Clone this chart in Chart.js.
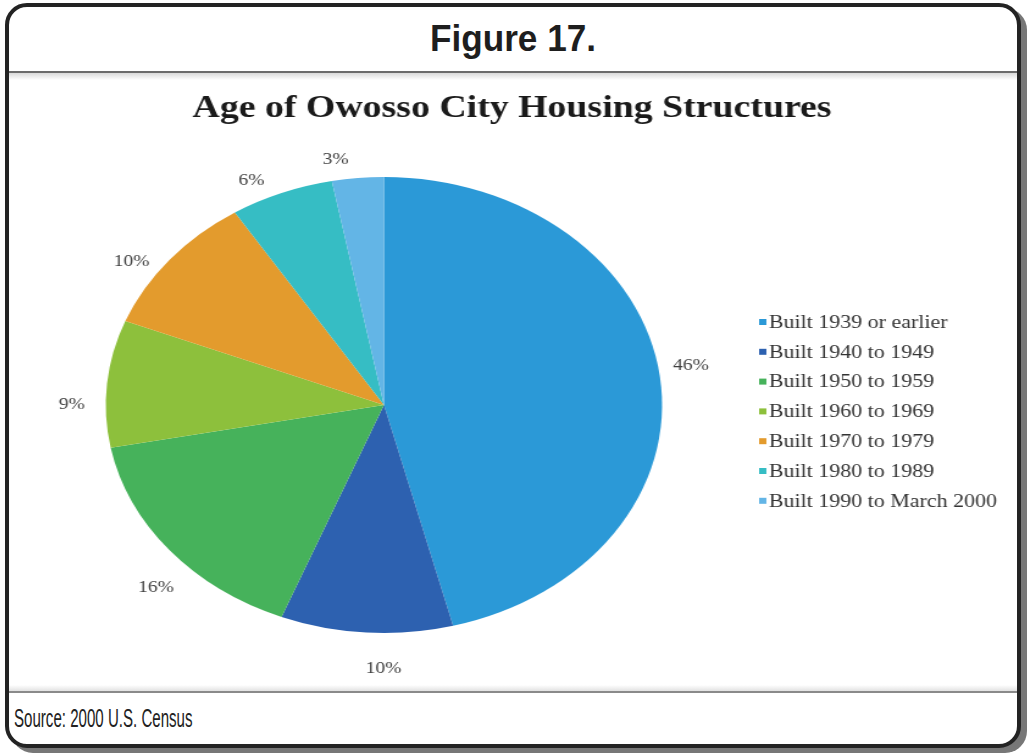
<!DOCTYPE html>
<html>
<head>
<meta charset="utf-8">
<script src="https://cdn.jsdelivr.net/npm/chart.js@4.4.1/dist/chart.umd.min.js"></script>
<style>
  body { margin: 0; background: #fff; width: 1029px; height: 753px; overflow: hidden; position: relative; }
  .frame { position: absolute; left: 5px; top: 3px; width: 1008px; height: 737px; border: 4px solid #232323;
           border-radius: 22px; box-shadow: 6px 5px 0 #777; background: #fff; overflow: hidden; }
  .head { position: absolute; left: 0; top: 0; right: 0; height: 64px; border-bottom: 2px solid #6b6b6b; }
  .head span { position: absolute; left: 50%; top: 12px; transform: translateX(-50%) scaleX(0.95);
               font: bold 37px "Liberation Sans", sans-serif; line-height: 40px; color: #1e1e1e; white-space: nowrap; }
  .band { position: absolute; left: 0; right: 0; top: 66px; height: 7px; background: linear-gradient(#d9d9d9, #fff); }
  .foot { position: absolute; left: 0; right: 0; top: 684px; bottom: 0; border-top: 2px solid #8a8a8a; }
  .foot span { position: absolute; left: 5px; top: 11px; transform: scaleX(0.58); transform-origin: 0 0;
               font: 26px "Liberation Sans", sans-serif; line-height: 28px; color: #222; white-space: nowrap; }
  .band2 { position: absolute; left: 0; right: 0; top: 678px; height: 6px; background: linear-gradient(#fff, #e2e2e2); }
  #wrap { position: absolute; left: 10px; top: 74px; width: 823px; height: 618px;
          transform: scaleX(1.22); transform-origin: 0 0; }
</style>
</head>
<body>
<div class="frame">
  <div class="head"><span>Figure 17.</span></div>
  <div class="band"></div>
  <div class="band2"></div>
  <div class="foot"><span>Source: 2000 U.S. Census</span></div>
</div>
<div id="wrap"><canvas id="chart" width="823" height="618"></canvas></div>
<script>
const categories = [
  "Built 1939 or earlier",
  "Built 1940 to 1949",
  "Built 1950 to 1959",
  "Built 1960 to 1969",
  "Built 1970 to 1979",
  "Built 1980 to 1989",
  "Built 1990 to March 2000"
]
const shares = [46, 10, 16, 9, 10, 6, 3]
const sliceColors = ["#2b99d7", "#2d61b0", "#46b25b", "#8dc03c", "#e39b2d", "#36bdc4", "#63b5e6"]
const chartTitle = "Age of Owosso City Housing Structures"

// title centred over the whole canvas (legend included)
const wideTitle = {
  id: "wideTitle",
  afterDraw(chart) {
    const ctx = chart.ctx
    ctx.save()
    ctx.font = "bold 31px 'Liberation Serif', serif"
    ctx.fillStyle = "#1a1a1a"
    ctx.textAlign = "center"
    ctx.textBaseline = "middle"
    ctx.fillText(chartTitle, chart.width / 2, 35)
    ctx.restore()
  }
}

// percent labels just outside each slice
const pctLabels = {
  id: "pctLabels",
  afterDatasetsDraw(chart) {
    const ctx = chart.ctx
    const meta = chart.getDatasetMeta(0)
    ctx.save()
    ctx.font = "16px 'Liberation Serif', serif"
    ctx.fillStyle = "#404040"
    ctx.textAlign = "center"
    ctx.textBaseline = "middle"
    meta.data.forEach((arc, i) => {
      const mid = (arc.startAngle + arc.endAngle) / 2 - 3.5 * Math.PI / 180
      const rr = arc.outerRadius + 28
      ctx.fillText(shares[i] + "%", arc.x + Math.cos(mid) * rr, arc.y + Math.sin(mid) * rr + 8)
    })
    ctx.restore()
  }
}

// legend column on the right
const sideLegend = {
  id: "sideLegend",
  afterDraw(chart) {
    const ctx = chart.ctx
    const x0 = chart.chartArea.right + 1
    ctx.save()
    ctx.font = "18px 'Liberation Serif', serif"
    ctx.textBaseline = "middle"
    categories.forEach((c, i) => {
      const y = 248 + i * 29.8
      ctx.fillStyle = sliceColors[i]
      ctx.fillRect(x0, y - 3, 6, 6)
      ctx.fillStyle = "#333"
      ctx.fillText(c, x0 + 8, y + 1)
    })
    ctx.restore()
  }
}

const ctx = document.getElementById("chart")
const myChart = new Chart(ctx, {
  type: "pie",
  data: {
    labels: categories,
    datasets: [{
      data: shares,
      backgroundColor: sliceColors,
      borderWidth: 0
    }]
  },
  options: {
    responsive: false,
    animation: false,
    layout: { padding: { left: 0, right: 210, top: 103, bottom: 59 } },
    plugins: {
      legend: { display: false },
      tooltip: { enabled: false },
      title: { display: false }
    }
  },
  plugins: [pctLabels, sideLegend, wideTitle]
})
</script>
</body>
</html>
